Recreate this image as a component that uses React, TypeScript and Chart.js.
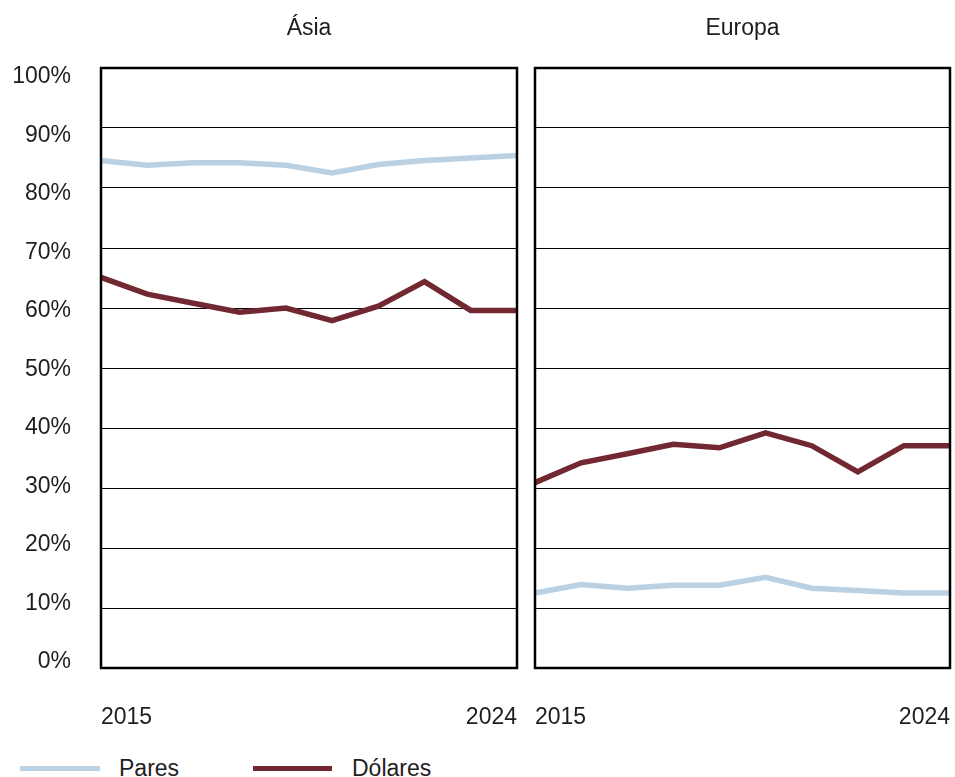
import React, { useEffect, useRef } from "react";
import { Chart, registerables } from "chart.js";

Chart.register(...registerables);

const years = ["2015", "2016", "2017", "2018", "2019", "2020", "2021", "2022", "2023", "2024"];
const asiaPares = [84.6, 83.8, 84.2, 84.2, 83.8, 82.5, 83.9, 84.6, 85.0, 85.4];
const asiaDolares = [65.1, 62.3, 60.8, 59.3, 60.0, 57.9, 60.3, 64.4, 59.6, 59.6];
const europaPares = [12.5, 13.9, 13.3, 13.8, 13.8, 15.1, 13.3, 12.9, 12.5, 12.5];
const europaDolares = [30.9, 34.2, 35.7, 37.3, 36.7, 39.2, 37.05, 32.7, 37.05, 37.05];
const yTickValues = [0, 10, 20, 30, 40, 50, 60, 70, 80, 90, 100];
const panelTitles = ["Ásia", "Europa"];
const seriesNames = ["Pares", "Dólares"];
const seriesColors = ["#bad1e4", "#722831"];

const FONT = "'Liberation Sans', Arial, Helvetica, sans-serif";
const TEXT = "#1e1e1e";

const framePlugin = {
  id: "frame",
  afterDatasetsDraw(chart: any) {
    const { ctx, chartArea } = chart;
    const { left, top, right, bottom } = chartArea;
    ctx.save();
    ctx.strokeStyle = "#000";
    ctx.lineWidth = 2.5;
    ctx.strokeRect(left, top, right - left, bottom - top);
    ctx.restore();
  },
};

function makeConfig(title: string, pares: number[], dolares: number[], withLabels: boolean, padLeft: number, padRight: number): any {
  const scales: any = {
    x: {
      type: "category",
      grid: { display: false },
      border: { display: false },
      ticks: {
        autoSkip: false,
        maxRotation: 0,
        minRotation: 0,
        align: "inner",
        padding: 28,
        color: TEXT,
        font: { family: FONT, size: 23 },
        callback: (_v: any, idx: number) =>
          idx === 0 || idx === years.length - 1 ? years[idx] : "",
      },
      afterFit: (s: any) => {
        s.height = 72;
        s.paddingLeft = 0;
        s.paddingRight = 0;
      },
    },
    y: {
      type: "linear",
      position: "left",
      min: 0,
      max: 100,
      grid: { color: "#000", lineWidth: 1, drawTicks: false },
      border: { display: false },
      ticks: { display: false, stepSize: 10 },
      afterFit: (s: any) => {
        s.width = 0;
        s.paddingTop = 0;
        s.paddingBottom = 0;
      },
    },
  };
  if (withLabels) {
    scales.yl = {
      type: "linear",
      position: "left",
      min: -1.08,
      max: 101.48,
      grid: { display: false, drawTicks: false },
      border: { display: false },
      afterBuildTicks: (s: any) => {
        s.ticks = yTickValues.map((v) => ({ value: v }));
      },
      ticks: {
        padding: 30,
        color: TEXT,
        font: { family: FONT, size: 23 },
        callback: (v: any) => `${v}%`,
      },
      afterFit: (s: any) => {
        s.width = 101;
        s.paddingTop = 0;
        s.paddingBottom = 0;
      },
    };
  }
  return {
    type: "line",
    data: {
      labels: years,
      datasets: [
        {
          label: seriesNames[0],
          data: pares,
          borderColor: seriesColors[0],
          backgroundColor: seriesColors[0],
          borderWidth: 5.5,
          pointRadius: 0,
          tension: 0,
        },
        {
          label: seriesNames[1],
          data: dolares,
          borderColor: seriesColors[1],
          backgroundColor: seriesColors[1],
          borderWidth: 5.5,
          pointRadius: 0,
          tension: 0,
        },
      ],
    },
    options: {
      responsive: false,
      animation: false,
      devicePixelRatio: 1,
      layout: { padding: { left: padLeft, right: padRight, top: 0, bottom: 0 } },
      plugins: {
        legend: { display: false },
        tooltip: { enabled: false },
        title: {
          display: true,
          text: title,
          fullSize: false,
          align: "center",
          color: TEXT,
          font: { family: FONT, size: 23, weight: "normal" },
          padding: { top: 15, bottom: 25.4 },
        },
      },
      scales,
    },
    plugins: [framePlugin],
  };
}

function Panel(props: { title: string; pares: number[]; dolares: number[]; withLabels: boolean; left: number; width: number; padLeft: number; padRight: number }) {
  const ref = useRef<HTMLCanvasElement | null>(null);
  useEffect(() => {
    if (!ref.current) return;
    const chart = new Chart(
      ref.current,
      makeConfig(props.title, props.pares, props.dolares, props.withLabels, props.padLeft, props.padRight)
    );
    return () => chart.destroy();
  }, []);
  return (
    <canvas
      ref={ref}
      width={props.width}
      height={740}
      style={{ position: "absolute", left: props.left, top: 0, width: props.width, height: 740 }}
    />
  );
}

export default function App() {
  const legendText: React.CSSProperties = {
    position: "absolute",
    top: 755,
    fontFamily: FONT,
    fontSize: 23,
    lineHeight: "27.6px",
    color: TEXT,
    whiteSpace: "nowrap",
  };
  return (
    <div style={{ position: "absolute", left: 0, top: 0, width: 955, height: 777, background: "#fff", overflow: "hidden" }}>
      <Panel title={panelTitles[0]} pares={asiaPares} dolares={asiaDolares} withLabels={true} left={0} width={525} padLeft={0} padRight={8} />
      <Panel title={panelTitles[1]} pares={europaPares} dolares={europaDolares} withLabels={false} left={525} width={430} padLeft={10} padRight={5} />
      <div style={{ position: "absolute", left: 20, top: 766, width: 80, height: 5, background: seriesColors[0] }} />
      <div style={{ ...legendText, left: 119 }}>{seriesNames[0]}</div>
      <div style={{ position: "absolute", left: 253, top: 766, width: 79, height: 5, background: seriesColors[1] }} />
      <div style={{ ...legendText, left: 352 }}>{seriesNames[1]}</div>
    </div>
  );
}
